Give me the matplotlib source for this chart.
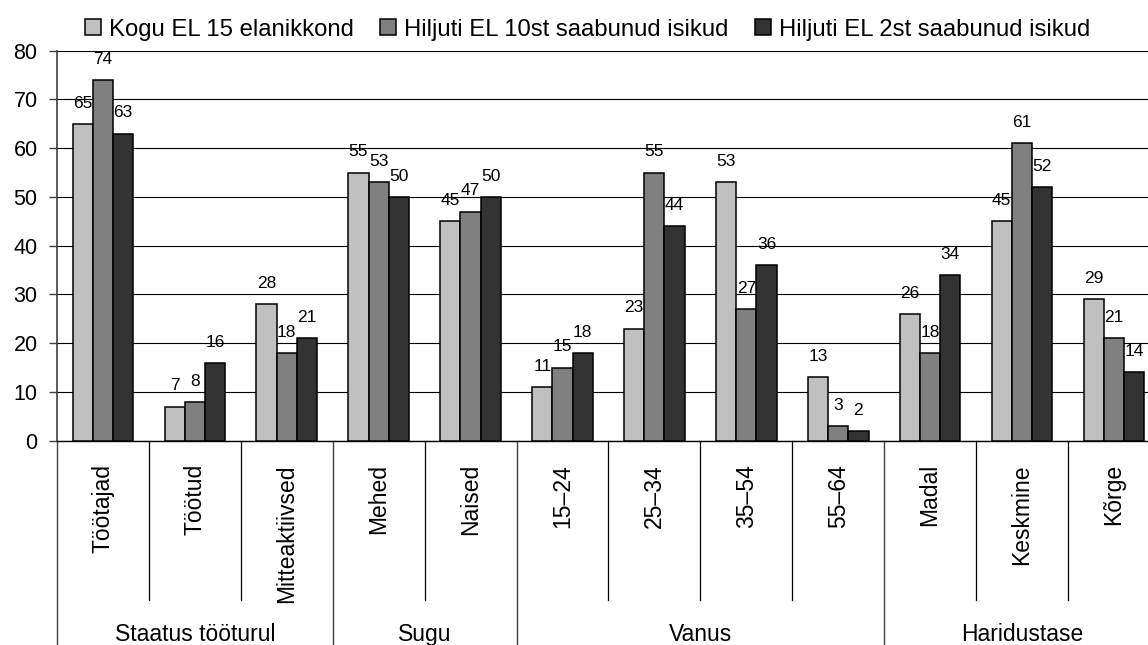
import matplotlib.pyplot as plt
import numpy as np

plt.rcParams['font.family'] = ['Liberation Sans', 'DejaVu Sans']

# Data
categories = ['Töötajad', 'Töötud', 'Mitteaktiivsed', 'Mehed', 'Naised',
              '15–24', '25–34', '35–54', '55–64', 'Madal', 'Keskmine', 'Kõrge']
groups = ['Staatus tööturul', 'Sugu', 'Vanus', 'Haridustase']
group_sizes = [3, 2, 4, 3]
series_names = ['Kogu EL 15 elanikkond', 'Hiljuti EL 10st saabunud isikud',
                'Hiljuti EL 2st saabunud isikud']
eu15 = [65, 7, 28, 55, 45, 11, 23, 53, 13, 26, 45, 29]
eu10 = [74, 8, 18, 53, 47, 15, 55, 27, 3, 18, 61, 21]
eu2 = [63, 16, 21, 50, 50, 18, 44, 36, 2, 34, 52, 14]
colors = ['#C0C0C0', '#808080', '#333333']

fig = plt.figure(figsize=(11.48, 6.45), dpi=100)
# axes run past the right edge, as in the original (cropped) chart
ax = fig.add_axes([0.0497, 0.3167, 0.9606, 0.6047])

x = np.arange(len(categories))
w = 0.22
handles = []
for i, (vals, c, name) in enumerate(zip([eu15, eu10, eu2], colors, series_names)):
    bars = ax.bar(x + (i - 1) * w, vals, w, color=c, edgecolor='black',
                  linewidth=1.1, label=name, zorder=3)
    handles.append(bars)
    for xi, v in zip(x + (i - 1) * w, vals):
        ax.annotate(str(v), (xi, v), xytext=(0, 9.5), textcoords='offset points',
                    ha='center', va='bottom', fontsize=12.5, zorder=4)

ax.set_xlim(-0.5, len(categories) - 0.5)
ax.set_ylim(0, 80)
ax.set_yticks(range(0, 81, 10))
ax.tick_params(axis='y', labelsize=15.5, length=6, width=1, color='#404040', pad=8)
ax.set_xticks([])
ax.yaxis.grid(True, color='black', linewidth=0.8, zorder=0)
ax.set_axisbelow(True)
for s in ['top', 'right']:
    ax.spines[s].set_visible(False)
ax.spines['left'].set_color('#404040')
ax.spines['left'].set_linewidth(1.2)
ax.spines['bottom'].set_linewidth(1.0)

# category labels and separators below the axis
tr = ax.get_xaxis_transform()
for xi, lab in zip(x, categories):
    ax.text(xi, -0.06, lab, rotation=90, ha='center', va='top',
            fontsize=16.5, transform=tr)

bounds = np.cumsum([0] + group_sizes)
for k in range(len(categories) + 1):
    if k in bounds:
        ax.plot([k - 0.5, k - 0.5], [0, -0.6], transform=tr, color='#404040',
                lw=1.0, clip_on=False)
    else:
        ax.plot([k - 0.5, k - 0.5], [0, -0.4085], transform=tr, color='black',
                lw=0.9, clip_on=False)

for g, a, b in zip(groups, bounds[:-1], bounds[1:]):
    ax.text((a + b - 1) / 2, -0.514, g, ha='center', va='baseline',
            fontsize=16.5, transform=tr)

fig.legend(handles=handles, loc='center', bbox_to_anchor=(0.512, 0.954), ncol=3,
           frameon=False, fontsize=17.2, handlelength=0.65, handleheight=0.65,
           handletextpad=0.35, columnspacing=1.1, borderpad=0)

fig.savefig('out.png', dpi=100)
